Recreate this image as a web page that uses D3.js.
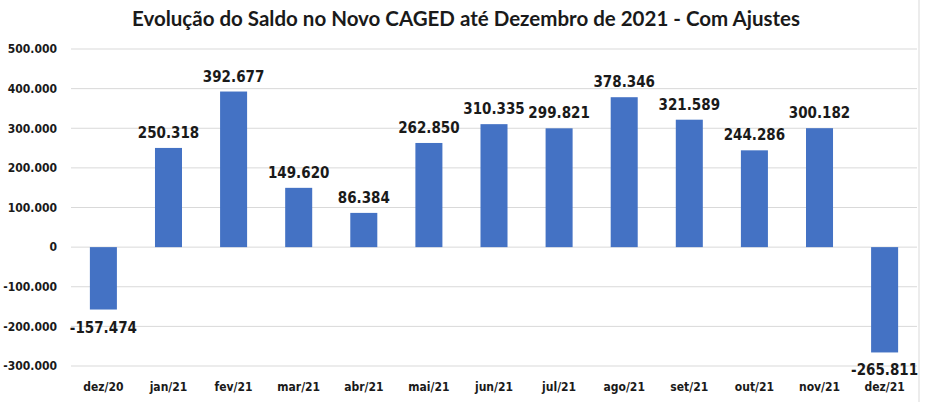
<!DOCTYPE html>
<html>
<head>
<meta charset="utf-8">
<script src="https://cdn.jsdelivr.net/npm/d3@7"></script>
<style>
  body { margin: 0; background: #fff; }
  text { fill: #1a1a1a; }
</style>
</head>
<body>
<div id="chart"></div>
<script>
const months = ["dez/20", "jan/21", "fev/21", "mar/21", "abr/21", "mai/21", "jun/21",
                "jul/21", "ago/21", "set/21", "out/21", "nov/21", "dez/21"];
const saldo = [-157474, 250318, 392677, 149620, 86384, 262850, 310335,
               299821, 378346, 321589, 244286, 300182, -265811];
const yTicks = [-300000, -200000, -100000, 0, 100000, 200000, 300000, 400000, 500000];

const width = 932, height = 402;
const margin = {top: 49, right: 15, bottom: 36, left: 71};

const svg = d3.select("#chart")
    .append("svg")
    .attr("width", width)
    .attr("height", height);

// pt-BR style: dot as thousands separator, plain hyphen for negatives
const fmt = v => d3.format(",")(v).replace(/,/g, ".").replace("\u2212", "-");

const x = d3.scaleBand()
    .domain(months)
    .range([margin.left, width - margin.right])
    .paddingInner(0.585)
    .paddingOuter(0.29);

const y = d3.scaleLinear()
    .domain([-300000, 500000])
    .range([height - margin.bottom, margin.top]);

// right border
svg.append("line")
    .attr("x1", 919).attr("x2", 919)
    .attr("y1", 0).attr("y2", height)
    .style("stroke", "#d9d9d9");

// gridlines
svg.append("g")
    .selectAll("line")
    .data(yTicks)
    .join("line")
    .attr("x1", margin.left)
    .attr("x2", width - margin.right)
    .attr("y1", d => y(d))
    .attr("y2", d => y(d))
    .style("stroke", "#d9d9d9");

// y axis labels
const yAxis = d3.axisLeft(y).tickValues(yTicks).tickSize(0).tickPadding(14)
    .tickFormat(d => d === 0 ? "0" : fmt(d));
svg.append("g")
    .attr("transform", `translate(${margin.left},0)`)
    .call(yAxis)
    .call(g => g.select(".domain").remove())
    .selectAll("text")
    .style("font-family", "DejaVu Sans Condensed")
    .style("font-weight", "bold")
    .style("font-size", "12px")
    .style("fill", "#1a1a1a");

// bars
svg.append("g")
    .selectAll("rect")
    .data(saldo)
    .join("rect")
    .attr("x", (d, i) => x(months[i]))
    .attr("width", x.bandwidth())
    .attr("y", d => y(Math.max(0, d)))
    .attr("height", d => Math.abs(y(d) - y(0)))
    .style("fill", "#4472c4");

// value labels
svg.append("g")
    .selectAll("text")
    .data(saldo)
    .join("text")
    .attr("x", (d, i) => x(months[i]) + x.bandwidth() / 2)
    .attr("y", d => d >= 0 ? y(d) - 10 : y(d) + 23)
    .attr("text-anchor", "middle")
    .style("font-family", "DejaVu Sans Condensed")
    .style("font-weight", "bold")
    .style("font-size", "15px")
    .text(d => fmt(d));

// x axis labels
svg.append("g")
    .selectAll("text")
    .data(months)
    .join("text")
    .attr("x", d => x(d) + x.bandwidth() / 2)
    .attr("y", 391)
    .attr("text-anchor", "middle")
    .style("font-family", "DejaVu Sans Condensed")
    .style("font-weight", "bold")
    .style("font-size", "12px")
    .text(d => d);

// title
svg.append("text")
    .attr("x", 466)
    .attr("y", 26)
    .attr("text-anchor", "middle")
    .style("font-family", "Lato")
    .style("font-weight", "bold")
    .style("font-size", "20.5px")
    .text("Evolução do Saldo no Novo CAGED até Dezembro de 2021 - Com Ajustes");
</script>
</body>
</html>
